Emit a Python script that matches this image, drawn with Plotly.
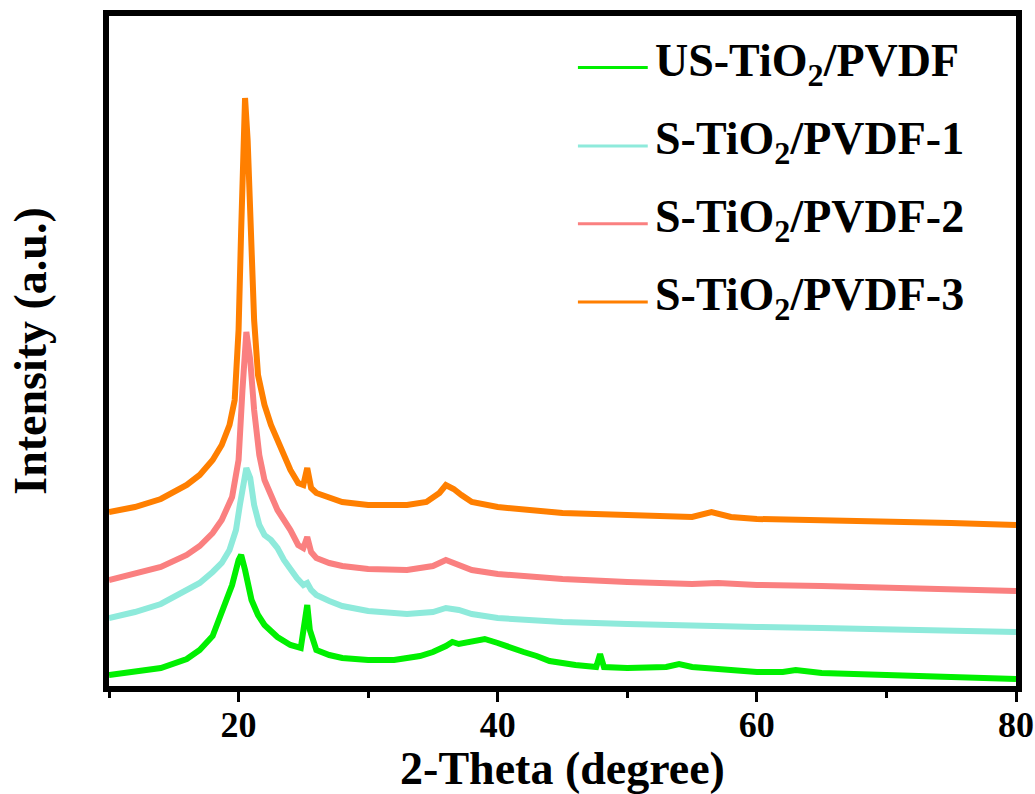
import plotly.graph_objects as go

# ---- data (2-Theta in degree, intensity in a.u., curves already offset) ----
us_x = [10, 12, 14, 16, 17, 18, 18.7, 19.5, 20.0, 20.2, 20.5, 21, 21.5, 22, 23, 24, 24.8, 25.1, 25.3, 25.5,
        26, 27, 28, 30, 32, 34, 35, 36, 36.5, 37, 38, 39, 40, 41, 42, 43, 44, 46, 47.6, 47.9, 48.2, 50,
        53, 54, 55, 58, 60, 62, 63, 65, 70, 75, 80]
us_y = [11, 14, 18, 27, 36, 50, 73, 101, 126, 131, 116, 86, 71, 61, 49, 41, 38, 61, 81, 56,
        36, 31, 28, 26, 26, 30, 34, 40, 44, 42, 45, 47, 43, 38, 34, 30, 25, 21, 19, 32, 19, 18,
        19, 22, 19, 16, 14, 14, 16, 13, 11, 10, 7]

s1_x = [10, 12, 14, 16, 17, 18, 18.7, 19.3, 19.8, 20.1, 20.4, 20.6, 20.9, 21.2, 21.6, 22, 22.5, 23, 23.5,
        24, 24.5, 25, 25.3, 25.6, 26, 27, 28, 30, 33, 35, 36, 37, 38, 40, 45, 50, 55, 60, 65, 70, 75, 80]
s1_y = [68, 74, 82, 95, 103, 114, 123, 136, 156, 181, 208, 218, 208, 181, 161, 151, 146, 138, 126,
        116, 108, 101, 103, 96, 91, 85, 80, 75, 72, 74, 78, 76, 72, 68, 64, 62, 60, 59, 58, 57, 56, 54]

s2_x = [10, 12, 14, 16, 17, 18, 18.7, 19.5, 20, 20.3, 20.6, 20.9, 21.2, 21.6, 22, 22.5, 23, 23.5, 24,
        24.6, 25.0, 25.3, 25.6, 26, 27, 28, 30, 33, 35, 36, 37, 38, 40, 45, 50, 55, 57, 60, 65, 70, 75, 80]
s2_y = [106, 112, 119, 131, 140, 153, 166, 189, 226, 296, 354, 326, 276, 231, 206, 191, 176, 166, 156,
        141, 138, 149, 134, 128, 123, 120, 117, 116, 120, 126, 121, 116, 112, 107, 104, 102, 103, 101, 100, 98, 97, 95]

s3_x = [10, 12, 14, 16, 17, 18, 18.7, 19.3, 19.7, 20.0, 20.2, 20.4, 20.5, 20.7, 20.9, 21.2, 21.5, 22, 22.5,
        23, 23.5, 24, 24.6, 25.0, 25.3, 25.6, 26, 27, 28, 30, 33, 34.5, 35.5, 36, 36.6, 37.2, 38, 40, 45,
        50, 55, 56.5, 58, 60, 65, 70, 75, 80]
s3_y = [174, 179, 187, 201, 211, 226, 241, 261, 286, 356, 456, 566, 588, 546, 466, 366, 311, 281, 261,
        246, 231, 216, 203, 201, 218, 198, 193, 188, 184, 181, 181, 184, 193, 201, 197, 191, 184, 179, 173,
        171, 169, 174, 169, 167, 166, 164, 163, 161]

series_names = ["US-TiO<sub>2</sub>/PVDF", "S-TiO<sub>2</sub>/PVDF-1",
                "S-TiO<sub>2</sub>/PVDF-2", "S-TiO<sub>2</sub>/PVDF-3"]
series_colors = ["#00f000", "#8eeadb", "#fa8080", "#ff7f00"]
x_tick_vals = [20, 40, 60, 80]
x_minor_vals = [10, 30, 50, 70]

FONT = "Liberation Serif"

fig = go.Figure()
for xs, ys, name, col in zip([us_x, s1_x, s2_x, s3_x], [us_y, s1_y, s2_y, s3_y],
                             series_names, series_colors):
    fig.add_trace(go.Scatter(x=xs, y=ys, mode="lines", name=name,
                             line=dict(color=col, width=6), showlegend=False))

# manual legend (long line samples like the reference)
leg_y = [0.923, 0.806, 0.690, 0.573]
for name, col, yy in zip(series_names, series_colors, leg_y):
    fig.add_shape(type="line", xref="paper", yref="paper", x0=0.517, x1=0.594, y0=yy, y1=yy,
                  line=dict(color=col, width=3))
    fig.add_annotation(xref="paper", yref="paper", x=0.600, y=yy + 0.006, xanchor="left",
                       yanchor="middle", showarrow=False, text="<b>" + name + "</b>",
                       font=dict(family=FONT, size=46, color="black"))

fig.update_layout(
    width=1035, height=794,
    margin=dict(l=109, r=19, t=16, b=108),
    paper_bgcolor="white", plot_bgcolor="white",
    font=dict(family=FONT, color="black"),
    xaxis=dict(range=[10, 80], showgrid=False, zeroline=False,
               showline=True, linewidth=6, linecolor="black", mirror=True,
               ticks="outside", ticklen=10, tickwidth=3, tickcolor="black",
               tickvals=x_tick_vals, ticktext=["<b>%d</b>" % v for v in x_tick_vals],
               tickfont=dict(family=FONT, size=36, color="black"),
               ticklabelstandoff=-8,
               minor=dict(tickvals=x_minor_vals, ticks="outside", ticklen=6, tickwidth=3,
                          tickcolor="black", showgrid=False),
               title=dict(text="<b>2-Theta (degree)</b>", standoff=10,
                          font=dict(family=FONT, size=46, color="black")),
               automargin=False),
    yaxis=dict(range=[0, 670], showgrid=False, zeroline=False,
               showline=True, linewidth=6, linecolor="black", mirror=True,
               ticks="", showticklabels=False,
               title=dict(text="<b>Intensity (a.u.)</b>", standoff=44,
                          font=dict(family=FONT, size=46, color="black")),
               automargin=False),
)

fig.write_html("out.html", config={"displayModeBar": False},
               post_script="document.body.style.margin='0';document.body.style.overflow='hidden';")
